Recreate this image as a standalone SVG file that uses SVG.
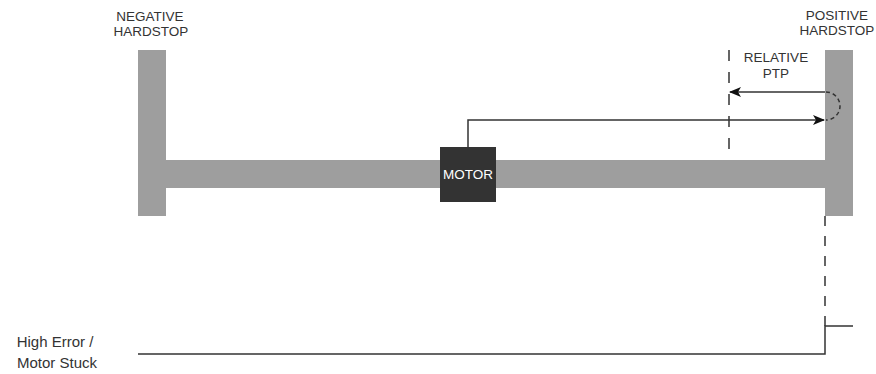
<svg xmlns="http://www.w3.org/2000/svg" width="876" height="374" viewBox="0 0 876 374">
  <defs>
    <style>
      .lbl { font-family: "Liberation Sans", Arial, sans-serif; font-size: 13.5px; fill: #333333; text-anchor: middle; }
      .bar { fill: #9e9e9e; }
      .ln { fill: none; stroke: #333333; stroke-width: 1.5; }
      .dash { fill: none; stroke: #333333; stroke-width: 1.5; stroke-dasharray: 10 10; }
    </style>
    <marker id="arrow" viewBox="0 0 12 10" refX="11" refY="5" markerWidth="12" markerHeight="10" markerUnits="userSpaceOnUse" orient="auto">
      <path d="M0,0 L12,5 L0,10 L3,5 Z" fill="#111111"/>
    </marker>
  </defs>
  <rect width="876" height="374" fill="#ffffff"/>

  <!-- rail and hardstops -->
  <g id="rail">
    <rect class="bar" x="138" y="160" width="715" height="28"/>
  </g>
  <g id="negative-hardstop">
    <rect class="bar" x="138" y="50" width="28" height="166"/>
    <text class="lbl" x="150" y="21">NEGATIVE</text>
    <text class="lbl" x="151" y="36">HARDSTOP</text>
  </g>
  <g id="positive-hardstop">
    <rect class="bar" x="825" y="50" width="28" height="166"/>
    <text class="lbl" x="837" y="20">POSITIVE</text>
    <text class="lbl" x="837" y="35">HARDSTOP</text>
  </g>

  <g id="relative-ptp">
    <text class="lbl" x="776" y="62">RELATIVE</text>
    <text class="lbl" x="776" y="78">PTP</text>
  </g>

  <g id="motor">
    <rect x="440" y="147" width="56" height="55" fill="#333333"/>
    <text class="lbl" x="468" y="179" style="fill:#ffffff">MOTOR</text>
  </g>

  <g id="signal-label">
    <text class="lbl" x="55" y="347" style="font-size:15px">High Error /</text>
    <text class="lbl" x="57" y="368" style="font-size:15px">Motor Stuck</text>
  </g>

  <!-- connectors -->
  <g id="connectors">
    <!-- relative target marker -->
    <line class="dash" x1="729" y1="50" x2="729" y2="150" style="stroke-dasharray:11 11"/>
    <!-- move to the positive hardstop -->
    <polyline class="ln" points="468,147 468,120 824,120" marker-end="url(#arrow)"/>
    <!-- bounce off the hardstop -->
    <path class="ln" d="M826,92 A14,14 0 0 1 826,120" stroke-dasharray="4 3"/>
    <!-- relative move back -->
    <line class="ln" x1="825" y1="92" x2="730" y2="92" marker-end="url(#arrow)"/>
    <!-- hardstop to error step -->
    <line class="dash" x1="825" y1="216" x2="825" y2="326"/>
    <!-- error signal -->
    <polyline class="ln" points="138,354 825,354 825,326 853,326"/>
  </g>
</svg>
